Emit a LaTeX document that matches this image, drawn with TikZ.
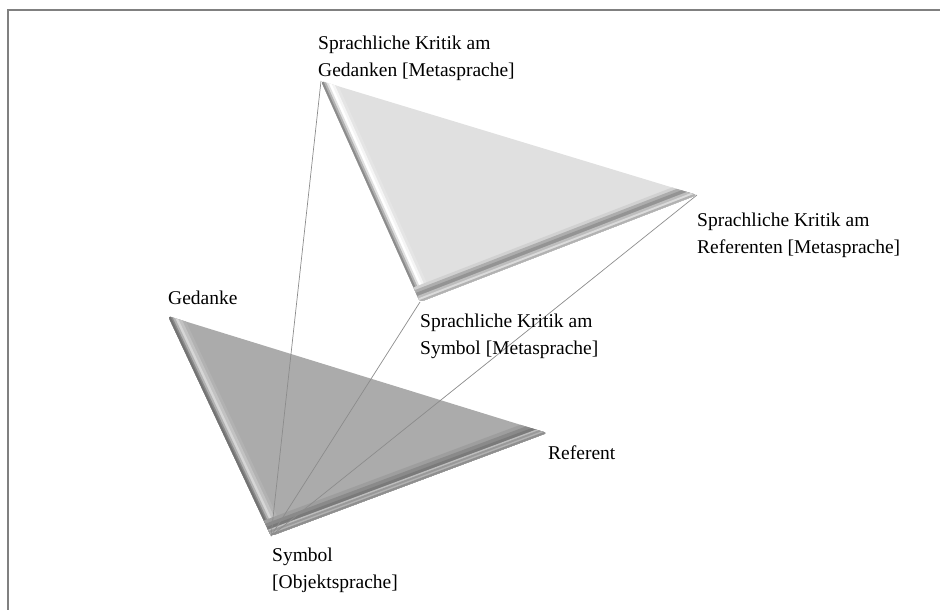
\documentclass[tikz,border=0pt]{standalone}
\usepackage{fontspec}
\setmainfont{Liberation Serif}
\usetikzlibrary{calc}
\newcommand\rimband[3]{% #1 = from, #2 = to, #3 = list width/grey
  \foreach \w/\g in {#3}{%
    \draw[line width=\w pt, black!\g, line cap=butt]
      ($(#1)!-0.15!(#2)$) -- ($(#2)!-0.15!(#1)$);
  }}
\begin{document}
\begin{tikzpicture}[x=1pt,y=-1pt,
  lbl/.style={font=\fontsize{19.5}{27}\selectfont, align=left, inner sep=0pt, anchor=north west},
  conn/.style={draw=black!45, line width=0.7pt},
  frame/.style={draw=black!50, line width=1.5pt},
  tri/.style={rounded corners=3pt}]
\useasboundingbox (0,0) rectangle (940,610);
\draw[frame] (8,610) -- (8,10) -- (940,10);

% lower triangle (object language)
\coordinate (G) at (168,316);
\coordinate (R) at (547,433);
\coordinate (S) at (271,536);
% upper triangle (meta language)
\coordinate (T) at (321,81);
\coordinate (M) at (697,195);
\coordinate (B) at (420,302);

% upper triangle
\fill[black!12, tri] (T) -- (M) -- (B) -- cycle;
\begin{scope}
  \clip[tri] (T) -- (M) -- (B) -- cycle;
  \rimband{T}{B}{28/10, 22/4, 17/0, 12/12, 8/30, 4/45}
  \rimband{B}{M}{32/18, 26/32, 20/42, 13/26, 8/14, 4/30}
\end{scope}

% lower triangle
\fill[black!33, tri] (G) -- (R) -- (S) -- cycle;
\begin{scope}
  \clip[tri] (G) -- (R) -- (S) -- cycle;
  \rimband{G}{S}{28/30, 22/24, 16/16, 11/30, 7/46, 4/55}
  \rimband{S}{R}{34/38, 27/46, 20/52, 14/26, 11/40, 7/30, 4/44}
\end{scope}

% connectors
\draw[conn] (S) -- (T);
\draw[conn] (S) -- (B);
\draw[conn] (S) -- (M);

% labels
\node[lbl] (lT) at (318,36) {Sprachliche Kritik am\\Gedanken {[}Metasprache{]}};
\node[lbl] (lM) at (697,213) {Sprachliche Kritik am\\Referenten {[}Metasprache{]}};
\node[lbl] (lB) at (420,314) {Sprachliche Kritik am\\Symbol {[}Metasprache{]}};
\node[lbl] (lG) at (168,291) {Gedanke};
\node[lbl] (lR) at (548,446) {Referent};
\node[lbl] (lS) at (272,548) {Symbol\\{[}Objektsprache{]}};
\end{tikzpicture}
\end{document}
